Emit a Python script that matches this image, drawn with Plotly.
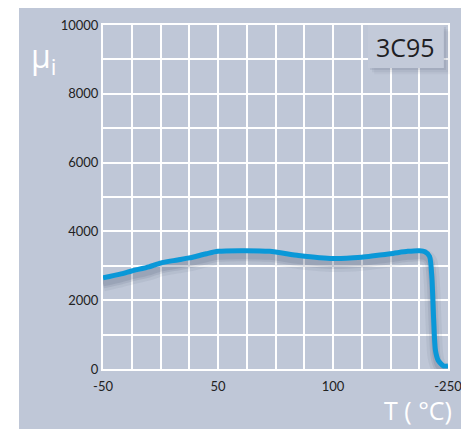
import plotly.graph_objects as go

# Initial permeability vs temperature, ferrite grade 3C95
temperature = [-50, -35, -25, -10, 0, 15, 25, 40, 50, 70, 95, 120, 150, 175, 200,
               215, 225, 230, 234, 236, 237.5, 239, 241.5, 246, 250]
mu_i = [2650, 2760, 2850, 2970, 3080, 3170, 3230, 3350, 3420, 3440, 3420, 3300, 3210,
        3250, 3350, 3420, 3440, 3410, 3270, 2650, 1450, 560, 250, 90, 90]

x_tickvals = [-50, 50, 150, 250]
x_ticktext = ["-50", "50", "100", "-250"]
y_tickvals = [0, 2000, 4000, 6000, 8000, 10000]
y_ticktext = ["0", "2000", "4000", "6000", "8000", "10000"]

BG = "#bfc7d7"
LINE = "#0a98d8"
TICK_FONT = dict(family="Lato, 'Open Sans', sans-serif", size=13, color="#222222")

fig = go.Figure()

# soft drop shadow under the curve
shadow_y = [v - 160 for v in mu_i]
for w, a in [(16, 0.07), (10, 0.10), (6, 0.12)]:
    fig.add_trace(go.Scatter(x=temperature, y=shadow_y, mode="lines",
                             line=dict(color=f"rgba(60,70,95,{a})", width=w,
                                       shape="spline", smoothing=0.6),
                             hoverinfo="skip", showlegend=False))

fig.add_trace(go.Scatter(x=temperature, y=mu_i, mode="lines",
                         line=dict(color=LINE, width=5, shape="spline", smoothing=0.6),
                         showlegend=False))

grid = dict(showgrid=True, gridcolor="white", gridwidth=2)

fig.update_xaxes(range=[-50, 250], tickvals=x_tickvals, ticktext=x_ticktext,
                 ticks="", tickfont=TICK_FONT, zeroline=False, ticklabeloverflow="allow",
                 ticklabelstandoff=4, automargin=False,
                 showline=True, linecolor="white", linewidth=2, mirror=True,
                 minor=dict(tick0=-50, dtick=25, **grid), **grid)
fig.update_yaxes(range=[0, 10000], tickvals=y_tickvals, ticktext=y_ticktext,
                 ticks="", tickfont=TICK_FONT, zeroline=False, ticklabeloverflow="allow",
                 automargin=False,
                 showline=True, linecolor="white", linewidth=2, mirror=True,
                 minor=dict(tick0=0, dtick=1000, **grid), **grid)

# panel background (leaves a thin white strip at the top and left)
fig.add_shape(type="rect", xref="paper", yref="paper",
              x0=-0.2435, x1=1.04, y0=-0.18, y1=1.0494,
              fillcolor=BG, line=dict(width=0), layer="below")

# grade label box with a shadow
for dx, a in [(0.006, 0.10), (0.012, 0.08), (0.018, 0.05)]:
    dy = dx * 345 / 344
    fig.add_shape(type="rect", xref="paper", yref="paper",
                  x0=0.768 + dx, x1=0.988 + dx, y0=0.875 - dy, y1=1.0 - dy,
                  fillcolor=f"rgba(70,80,100,{a})", line=dict(width=0), layer="above")
fig.add_shape(type="rect", xref="paper", yref="paper",
              x0=0.768, x1=0.988, y0=0.875, y1=1.0,
              fillcolor="#c3cad9", line=dict(width=0), layer="above")
fig.add_annotation(xref="paper", yref="paper", x=0.878, y=0.9375,
                   text="3C95", showarrow=False, xanchor="center", yanchor="middle",
                   font=dict(family="'Open Sans', sans-serif", size=25, color="#1e1e24"))

# axis titles
fig.add_annotation(xref="paper", yref="paper", x=-0.215, y=0.905,
                   text="μ<sub>i</sub>", showarrow=False, xanchor="left", yanchor="middle",
                   font=dict(family="'Open Sans', sans-serif", size=32, color="white"))
fig.add_annotation(xref="paper", yref="paper", x=1.015, y=-0.172,
                   text="T ( °C)", showarrow=False, xanchor="right", yanchor="bottom",
                   borderpad=0,
                   font=dict(family="'Open Sans', sans-serif", size=25, color="white"))

fig.update_layout(width=461, height=429,
                  margin=dict(l=103, r=13, t=25, b=60),
                  paper_bgcolor="white", plot_bgcolor="rgba(0,0,0,0)")

fig.write_html("out.html")
